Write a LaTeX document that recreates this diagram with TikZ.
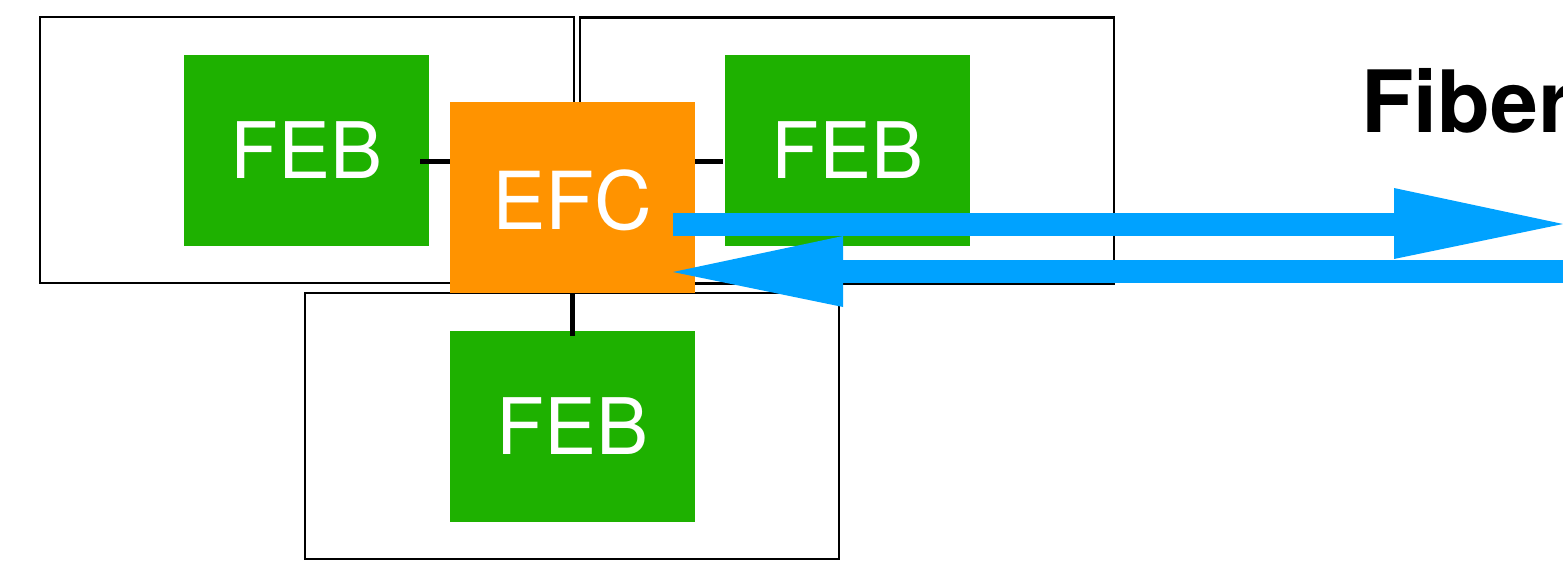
\documentclass[tikz,border=0pt]{standalone}
\usepackage{fontspec}
\setmainfont{TeX Gyre Heros}
\definecolor{febgreen}{HTML}{1EB100}
\definecolor{efcorange}{HTML}{FF9300}
\definecolor{fiberblue}{HTML}{00A2FF}
\begin{document}
\begin{tikzpicture}[x=1pt,y=-1pt,
  frame/.style={draw=black,line width=2.4pt,minimum width=534pt,minimum height=266pt,inner sep=0pt},
  febbox/.style={fill=febgreen,text=white,minimum width=245pt,minimum height=191pt,inner sep=0pt,font=\fontsize{78}{78}\selectfont},
  efcbox/.style={fill=efcorange,text=white,minimum width=245pt,minimum height=191pt,inner sep=0pt,font=\fontsize{80}{80}\selectfont},
  link/.style={draw=black,line width=5pt},
  fiber/.style={fill=fiberblue,draw=none}]
\useasboundingbox (0,0) rectangle (1563,560);
\clip (0,0) rectangle (1563,560);
\node[frame] (box1) at (307,150) {};
\node[frame] (box2) at (847,150.5) {};
\node[frame] (box3) at (572,426) {};
\node[febbox] (feb1) at (306.5,150.5) {FEB};
\node[febbox] (feb2) at (847.5,150.5) {FEB};
\node[febbox] (feb3) at (572.5,426.5) {FEB};
\node[efcbox] (efc) at (572.5,197.5) {};
\node[text=white,font=\fontsize{80}{80}\selectfont,inner sep=0pt,anchor=base] (efclabel) at (572.5,229) {EFC};
\draw[link] ([xshift=-9pt]feb1.east |- 0,161) -- (efc.west |- 0,161);
\draw[link] (efc.east |- 0,161) -- ([xshift=-2pt]feb2.west |- 0,161);
\draw[link] (efc.south) -- ([yshift=-5pt]feb3.north);
\coordinate (a1s) at (673,213);
\coordinate (a2e) at (673,272);
\fill[fiber] (a1s) rectangle (1395,236);
\fill[fiber] (1394,188) -- (1563,224) -- (1394,259) -- cycle;
\fill[fiber] (842,260) rectangle (1563,283);
\fill[fiber] (843,236) -- (a2e) -- (843,307) -- cycle;
\node[font=\bfseries\fontsize{86}{86}\selectfont,anchor=base west,inner sep=0pt] (fibertxt) at (1361,132) {Fiber};
\end{tikzpicture}
\end{document}
